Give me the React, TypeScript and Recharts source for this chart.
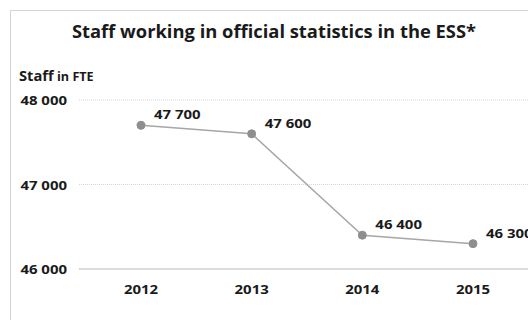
import React from 'react'
import { LineChart, Line, XAxis, YAxis, CartesianGrid, LabelList } from 'recharts'

const years = ['2012', '2013', '2014', '2015']
const staff = [47700, 47600, 46400, 46300]
const yTicks = [46000, 47000, 48000]
const sepTicks = [0.5, 1.5, 2.5]

const data = years.map((year, i) => ({ year, staff: staff[i] }))

const FONT = '"Open Sans", sans-serif'
const STRETCH = 1.15
const TEXT = '#1a1a1a'

const fmt = (v: number) => String(v).replace(/\B(?=(\d{3})+(?!\d))/g, ' ')

const YTick = (props: any) => {
  const { x, y, payload } = props
  return (
    <text
      transform={`translate(${x - 12},${y + 5}) scale(${STRETCH},1)`}
      textAnchor="end"
      fontFamily={FONT}
      fontWeight={700}
      fontSize={13}
      fill={TEXT}
    >
      {fmt(payload.value)}
    </text>
  )
}

const XTick = (props: any) => {
  const { x, y, payload } = props
  return (
    <text
      transform={`translate(${x},${y + 25}) scale(${STRETCH},1)`}
      textAnchor="middle"
      fontFamily={FONT}
      fontWeight={700}
      fontSize={13}
      fill={TEXT}
    >
      {payload.value}
    </text>
  )
}

const PointLabel = (props: any) => {
  const { x, y, value } = props
  return (
    <text
      transform={`translate(${x + 13},${y - 6}) scale(${STRETCH},1)`}
      textAnchor="start"
      fontFamily={FONT}
      fontWeight={700}
      fontSize={13}
      fill={TEXT}
    >
      {fmt(value)}
    </text>
  )
}

export default function App() {
  return (
    <div
      style={{
        position: 'absolute',
        left: 0,
        top: 0,
        width: 528,
        height: 320,
        overflow: 'hidden',
        background: '#fff',
      }}
    >
      <div
        style={{
          position: 'absolute',
          left: 10,
          top: 10,
          width: 540,
          height: 330,
          border: '1px solid #d4d4d4',
        }}
      />
      <LineChart
        width={528}
        height={320}
        data={data}
        margin={{ top: 100, right: 0, bottom: 0, left: 10 }}
        style={{ position: 'absolute', left: 0, top: 0 }}
      >
        <CartesianGrid
          vertical={false}
          stroke="#d6d6d6"
          strokeDasharray="1 1"
        />
        <XAxis
          xAxisId="sep"
          type="number"
          domain={[-0.56, 3.496]}
          allowDataOverflow
          ticks={sepTicks}
          tick={false}
          tickSize={5}
          tickLine={{ stroke: '#c4c4c4' }}
          axisLine={false}
          height={0}
        />
        <XAxis
          dataKey="year"
          padding={{ left: 62, right: 55 }}
          tick={<XTick />}
          tickSize={0}
          tickMargin={0}
          tickLine={false}
          axisLine={{ stroke: '#c4c4c4' }}
          height={51}
        />
        <YAxis
          domain={[46000, 48000]}
          ticks={yTicks}
          tick={<YTick />}
          tickSize={0}
          tickMargin={0}
          tickLine={false}
          axisLine={false}
          width={69}
        />
        <Line
          dataKey="staff"
          stroke="#a6a6a6"
          strokeWidth={1.5}
          dot={{ r: 4, fill: '#8e8e8e', stroke: '#8e8e8e', strokeWidth: 1 }}
          isAnimationActive={false}
        >
          <LabelList dataKey="staff" content={<PointLabel />} />
        </Line>
      </LineChart>
      <svg
        width={528}
        height={320}
        style={{ position: 'absolute', left: 0, top: 0, pointerEvents: 'none' }}
      >
        <text
          transform="translate(274,37.5) scale(1.08,1)"
          textAnchor="middle"
          fontFamily={FONT}
          fontWeight={700}
          fontSize={17}
          fill={TEXT}
        >
          Staff working in official statistics in the ESS*
        </text>
        <text
          transform="translate(19,80.5) scale(1.05,1)"
          fontFamily={FONT}
          fontWeight={700}
          fill={TEXT}
        >
          <tspan fontSize={14}>Staff</tspan>
          <tspan fontSize={12}> in FTE</tspan>
        </text>
      </svg>
    </div>
  )
}
